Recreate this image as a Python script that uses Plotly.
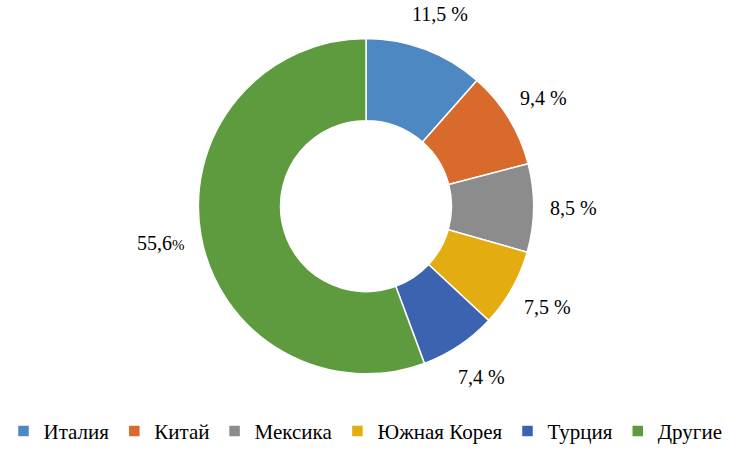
import math
import plotly.graph_objects as go

categories = ["Италия", "Китай", "Мексика", "Южная Корея", "Турция", "Другие"]
values = [11.5, 9.4, 8.5, 7.5, 7.4, 55.6]
label_texts = ["11,5 %", "9,4 %", "8,5 %", "7,5 %", "7,4 %",
               "55,6<span style='font-size:15px'>%</span>"]
colors = ["#4E88C2", "#D86A2B", "#8C8C8C", "#E3AC10", "#3B63AF", "#5E9A3E"]

W, H = 731, 452
cx, cy = 366, 243.5      # pie centre in pixels (from bottom)
R = 169.5                # outer radius in pixels
label_r = 208            # radius where labels sit

SERIF = "Liberation Serif, Times New Roman, serif"

fig = go.Figure()
fig.add_trace(go.Pie(
    labels=categories,
    values=values,
    hole=0.51,
    sort=False,
    direction="clockwise",
    rotation=0,
    textinfo="none",
    hoverinfo="label+percent",
    marker=dict(colors=colors, line=dict(color="white", width=1.5)),
    domain=dict(x=[(cx - R) / W, (cx + R) / W],
                y=[(cy - R) / H, (cy + R) / H]),
))

total = sum(values)
cum = 0.0
annotations = []
for v, t in zip(values, label_texts):
    mid = (cum + v / 2) / total * 2 * math.pi
    cum += v
    px = cx + label_r * math.sin(mid)
    py = cy + label_r * math.cos(mid)
    annotations.append(dict(
        x=px / W, y=py / H, xref="paper", yref="paper",
        text=t, showarrow=False, xanchor="center", yanchor="middle",
        font=dict(family=SERIF, size=20, color="black"),
    ))

fig.update_layout(
    width=W, height=H,
    margin=dict(l=0, r=0, t=0, b=0),
    paper_bgcolor="white", plot_bgcolor="white",
    font=dict(family=SERIF, color="black"),
    annotations=annotations,
    showlegend=True,
    legend=dict(
        orientation="h", x=0.5, xanchor="center", y=0.035, yanchor="middle",
        font=dict(family=SERIF, size=21, color="black"),
        itemwidth=30, tracegroupgap=0,
    ),
)

fig.write_html("out.html", config={"displayModeBar": False},
               post_script="document.body.style.margin='0';")
